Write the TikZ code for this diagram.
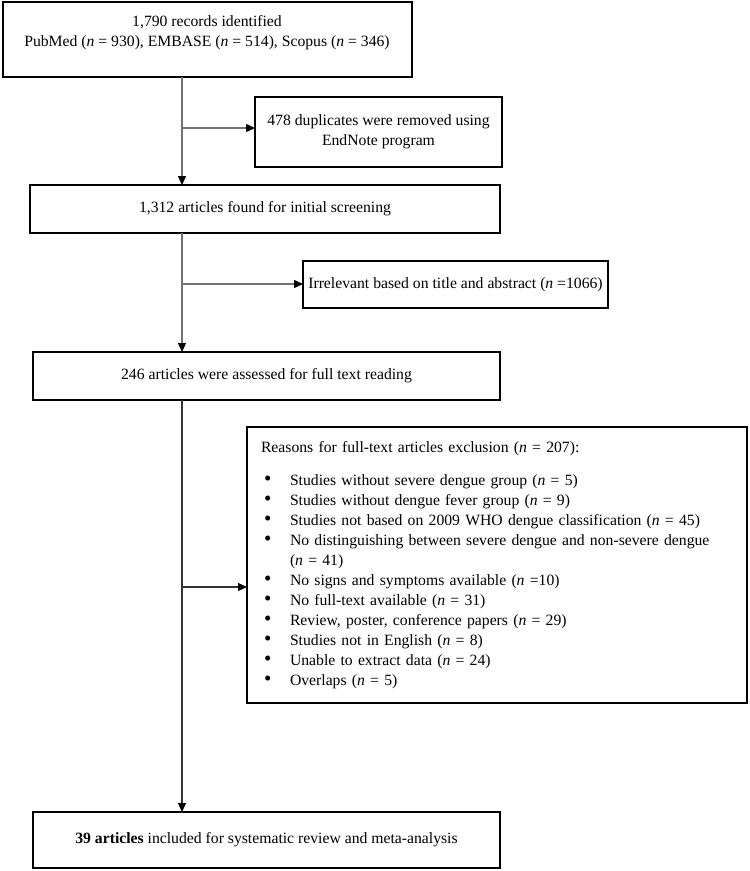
\documentclass[tikz,border=0pt]{standalone}
\usepackage{fontspec}
\setmainfont{Liberation Serif}
\usetikzlibrary{arrows.meta,calc}
\newcommand\bul{\makebox[29pt][l]{\hspace{3pt}\raisebox{-0.5pt}{\fontsize{21}{20}\selectfont\textbullet}}}
\begin{document}
\begin{tikzpicture}[x=1pt,y=-1pt,
  every node/.style={font=\fontsize{15.7}{20}\selectfont},
  box/.style={draw=black,line width=1.4pt,rectangle,anchor=north west,inner sep=0pt,outer sep=0pt,align=center},
  txt/.style={inner sep=0pt,align=center},
  flow/.style={draw=black!55,line width=1.3pt,-{Triangle[length=9pt,width=8pt,color=black]}},
  flowdark/.style={draw=black!80,line width=1.2pt,-{Triangle[length=9pt,width=8pt,color=black]}}
]
\useasboundingbox (0,0) rectangle (750,871);
% boxes
\node[box, minimum width=409pt, minimum height=75pt] (rec) at (3,2) {};
\node[txt] (rect) at (207,33) {1,790 records identified\\PubMed (\textit{n} = 930), EMBASE (\textit{n} = 514), Scopus (\textit{n} = 346)};
\node[box, minimum width=247pt, minimum height=70pt] (dup) at (255,97) {478 duplicates were removed using\\EndNote program};
\node[box, minimum width=470pt, minimum height=48pt] (screen) at (30,185) {1,312 articles found for initial screening};
\node[box, minimum width=305pt, minimum height=47pt] (irr) at (303,261) {Irrelevant based on title and abstract (\textit{n} =1066)};
\node[box, minimum width=467pt, minimum height=48pt] (full) at (33,352) {246 articles were assessed for full text reading};
\node[box, align=left, inner xsep=14pt, text width=472pt, minimum width=500pt, minimum height=276pt] (reas) at (247,427) {Reasons for full-text articles exclusion (\textit{n} = 207):\\[13pt]
\bul Studies without severe dengue group (\textit{n} = 5)\\
\bul Studies without dengue fever group (\textit{n} = 9)\\
\bul Studies not based on 2009 WHO dengue classification (\textit{n} = 45)\\
\bul No distinguishing between severe dengue and non-severe dengue\\
\hspace*{29pt}(\textit{n} = 41)\\
\bul No signs and symptoms available (\textit{n} =10)\\
\bul No full-text available (\textit{n} = 31)\\
\bul Review, poster, conference papers (\textit{n} = 29)\\
\bul Studies not in English (\textit{n} = 8)\\
\bul Unable to extract data (\textit{n} = 24)\\
\bul Overlaps (\textit{n} = 5)};
\node[box, minimum width=467pt, minimum height=56pt] (incl) at (33,812) {\textbf{39 articles} included for systematic review and meta-analysis};
% spine and junctions
\coordinate (sp) at (182,0);
\coordinate (j1) at (182,128);
\coordinate (j2) at (182,284);
\coordinate (j3) at (182,587);
% connectors
\draw[flow] (rec.south -| sp) -- (screen.north -| sp);
\draw[flow] (j1) -- (dup.west |- j1);
\draw[flow] (screen.south -| sp) -- (full.north -| sp);
\draw[flow] (j2) -- (irr.west |- j2);
\draw[flowdark] (full.south -| sp) -- (incl.north -| sp);
\draw[flowdark] (j3) -- (reas.west |- j3);
\end{tikzpicture}
\end{document}
